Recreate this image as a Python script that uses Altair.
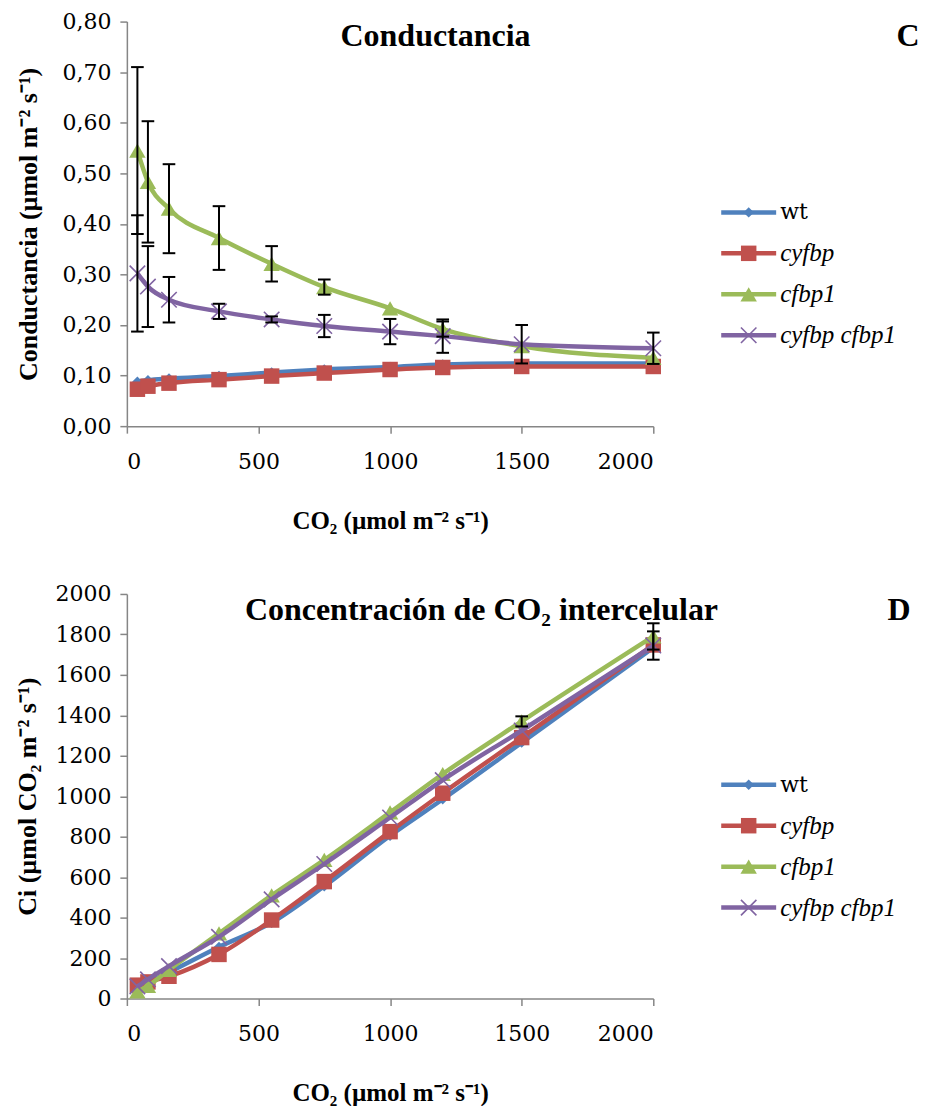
import altair as alt
import pandas as pd

# ---------------- data ----------------
CO2 = [40, 80, 160, 350, 550, 750, 1000, 1200, 1500, 2000]
SERIES = ["wt", "cyfbp", "cfbp1", "cyfbp cfbp1"]
COLORS = ["#4F81BD", "#C0504D", "#9BBB59", "#8064A2"]

# Conductancia (top panel)
GS_WT = [0.088, 0.091, 0.094, 0.099, 0.106, 0.112, 0.117, 0.122, 0.124, 0.124]
GS_CYFBP = [0.073, 0.079, 0.085, 0.092, 0.099, 0.105, 0.112, 0.116, 0.118, 0.118]
GS_CFBP1 = [0.545, 0.483, 0.430, 0.372, 0.321, 0.275, 0.233, 0.192, 0.158, 0.135]
GS_DOUBLE = [0.302, 0.276, 0.250, 0.227, 0.211, 0.198, 0.187, 0.178, 0.162, 0.154]
GS_ERR_CFBP1 = [0.165, 0.120, 0.088, 0.063, 0.035, 0.015, 0.0, 0.015, 0.0, 0.0]
GS_ERR_DOUBLE = [0.115, 0.080, 0.045, 0.015, 0.006, 0.022, 0.025, 0.033, 0.038, 0.031]

# Ci (bottom panel)
CI_WT = [60, 80, 130, 255, 375, 555, 805, 985, 1265, 1735]
CI_CYFBP = [66, 82, 110, 218, 388, 578, 825, 1015, 1290, 1748]
CI_CFBP1 = [35, 62, 142, 322, 510, 685, 920, 1110, 1370, 1790]
CI_DOUBLE = [60, 95, 160, 305, 490, 665, 895, 1080, 1325, 1745]
CI_ERR_CFBP1 = [0, 0, 0, 0, 0, 0, 0, 0, 25, 65]
CI_ERR_DOUBLE = [0, 0, 0, 0, 0, 0, 0, 0, 0, 70]

X_TICKS = [0, 500, 1000, 1500, 2000]
GS_TICKS = [0.0, 0.1, 0.2, 0.3, 0.4, 0.5, 0.6, 0.7, 0.8]
CI_TICKS = [0, 200, 400, 600, 800, 1000, 1200, 1400, 1600, 1800, 2000]

FONT = "Liberation Serif"          # bold / italic text
REG_FONT = "DejaVu Serif"          # regular serif text
SHAPES = ["diamond", "square", "triangle-up", "M-1,-1L1,1M-1,1L1,-1"]
SIZES = [110, 240, 270, 240]
W, H = 527, 405
LEG_X0, LEG_X1, LEG_TX = 595, 650, 654


def panel(values, errors, ydom, yticks, ylabel_expr, ytitle, title, title_x, title_y,
          letter, letter_x, ytitle_pad):
    x_enc = alt.X(
        "x:Q",
        scale=alt.Scale(domain=[0, 2000], nice=False),
        axis=alt.Axis(values=X_TICKS, title="CO₂ (µmol m⁻² s⁻¹)", format="d"),
    )
    y_enc = alt.Y(
        "y:Q",
        scale=alt.Scale(domain=ydom, nice=False),
        axis=alt.Axis(values=yticks, title=ytitle, labelExpr=ylabel_expr,
                      titlePadding=ytitle_pad),
    )
    data_layers = []
    for i, s in enumerate(SERIES):
        df = pd.DataFrame({"x": CO2, "y": values[i]})
        data_layers.append(
            alt.Chart(df).mark_line(color=COLORS[i], strokeWidth=4.5, interpolate="monotone")
            .encode(x=x_enc, y=y_enc)
        )
        if i == 3:
            pts = alt.Chart(df).mark_point(shape=SHAPES[i], filled=False, size=SIZES[i],
                                           color=COLORS[i], strokeWidth=1.6, opacity=1)
        else:
            pts = alt.Chart(df).mark_point(shape=SHAPES[i], filled=True, size=SIZES[i],
                                           color=COLORS[i], opacity=1)
        data_layers.append(pts.encode(x=x_enc, y=y_enc))
    for i, s in enumerate(SERIES):
        if errors[i] is None:
            continue
        rows = [(x, v - e, v + e) for x, v, e in zip(CO2, values[i], errors[i]) if e > 0]
        edf = pd.DataFrame(rows, columns=["x", "lo", "hi"])
        data_layers.append(
            alt.Chart(edf).mark_rule(color="black", strokeWidth=2)
            .encode(x=x_enc, y=alt.Y("lo:Q"), y2="hi:Q")
        )
        for col in ["lo", "hi"]:
            data_layers.append(
                alt.Chart(edf).mark_point(shape="M-1,0L1,0", filled=False, size=160,
                                          color="black", strokeWidth=2, opacity=1)
                .encode(x=x_enc, y=alt.Y(f"{col}:Q"))
            )

    leg_scale = alt.Scale(type="point", domain=SERIES, range=[191, 314], padding=0)
    leg_layers = []
    for i, s in enumerate(SERIES):
        ldf = pd.DataFrame({"series": [s]})
        ly = alt.Y("series:N", scale=leg_scale, axis=None)
        leg_layers.append(
            alt.Chart(ldf).mark_rule(color=COLORS[i], strokeWidth=4.5)
            .encode(x=alt.value(LEG_X0), x2=alt.value(LEG_X1), y=ly)
        )
        if i == 3:
            lp = alt.Chart(ldf).mark_point(shape=SHAPES[i], filled=False, size=SIZES[i],
                                           color=COLORS[i], strokeWidth=1.6, opacity=1)
        else:
            lp = alt.Chart(ldf).mark_point(shape=SHAPES[i], filled=True, size=SIZES[i],
                                           color=COLORS[i], opacity=1)
        leg_layers.append(lp.encode(x=alt.value((LEG_X0 + LEG_X1) / 2), y=ly))
        if i == 0:
            lt = alt.Chart(ldf).mark_text(font=REG_FONT, fontSize=22, align="left",
                                          baseline="middle", color="black")
        else:
            lt = alt.Chart(ldf).mark_text(font=FONT, fontSize=25, align="left",
                                          baseline="middle", fontStyle="italic", color="black")
        leg_layers.append(lt.encode(x=alt.value(LEG_TX), y=ly, text="series:N"))
    tdf = pd.DataFrame({"t": [title], "l": [letter]})
    leg_layers.append(
        alt.Chart(tdf).mark_text(font=FONT, fontSize=32, fontWeight="bold", align="center",
                                 baseline="middle", color="black")
        .encode(x=alt.value(title_x), y=alt.value(title_y), text="t:N")
    )
    leg_layers.append(
        alt.Chart(tdf).mark_text(font=FONT, fontSize=32, fontWeight="bold", align="center",
                                 baseline="middle", color="black")
        .encode(x=alt.value(letter_x), y=alt.value(title_y), text="l:N")
    )
    return alt.layer(alt.layer(*data_layers), alt.layer(*leg_layers)).resolve_scale(
        y="independent"
    ).properties(width=W, height=H)


top = panel(
    [GS_WT, GS_CYFBP, GS_CFBP1, GS_DOUBLE],
    [None, None, GS_ERR_CFBP1, GS_ERR_DOUBLE],
    [0, 0.8], GS_TICKS,
    "replace(format(datum.value, '.2f'), '.', ',')",
    "Conductancia (µmol m⁻² s⁻¹)",
    "Conductancia", 309, 14, "C", 782, 20,
)
bottom = panel(
    [CI_WT, CI_CYFBP, CI_CFBP1, CI_DOUBLE],
    [None, None, CI_ERR_CFBP1, CI_ERR_DOUBLE],
    [0, 2000], CI_TICKS,
    "format(datum.value, 'd')",
    "Ci (µmol CO₂ m⁻² s⁻¹)",
    "Concentración de CO₂ intercelular", 355, 16, "D", 773, 14,
)

chart = alt.vconcat(top, bottom, spacing=50).properties(
    padding={"left": 7, "top": 2, "right": 0, "bottom": 0}
).configure_view(stroke=None).configure_axis(
    grid=False,
    domainColor="#868686",
    domainWidth=1.5,
    tickColor="#868686",
    tickWidth=1.5,
    tickSize=7,
    labelFont=REG_FONT,
    labelFontSize=22,
    labelColor="black",
    titleFont=FONT,
    titleFontWeight="bold",
    titleColor="black",
).configure_axisX(labelPadding=18, titlePadding=36, titleFontSize=25).configure_axisY(
    labelPadding=9, titleFontSize=26
)

chart.save("out.html", embed_options={"renderer": "svg", "actions": False})
